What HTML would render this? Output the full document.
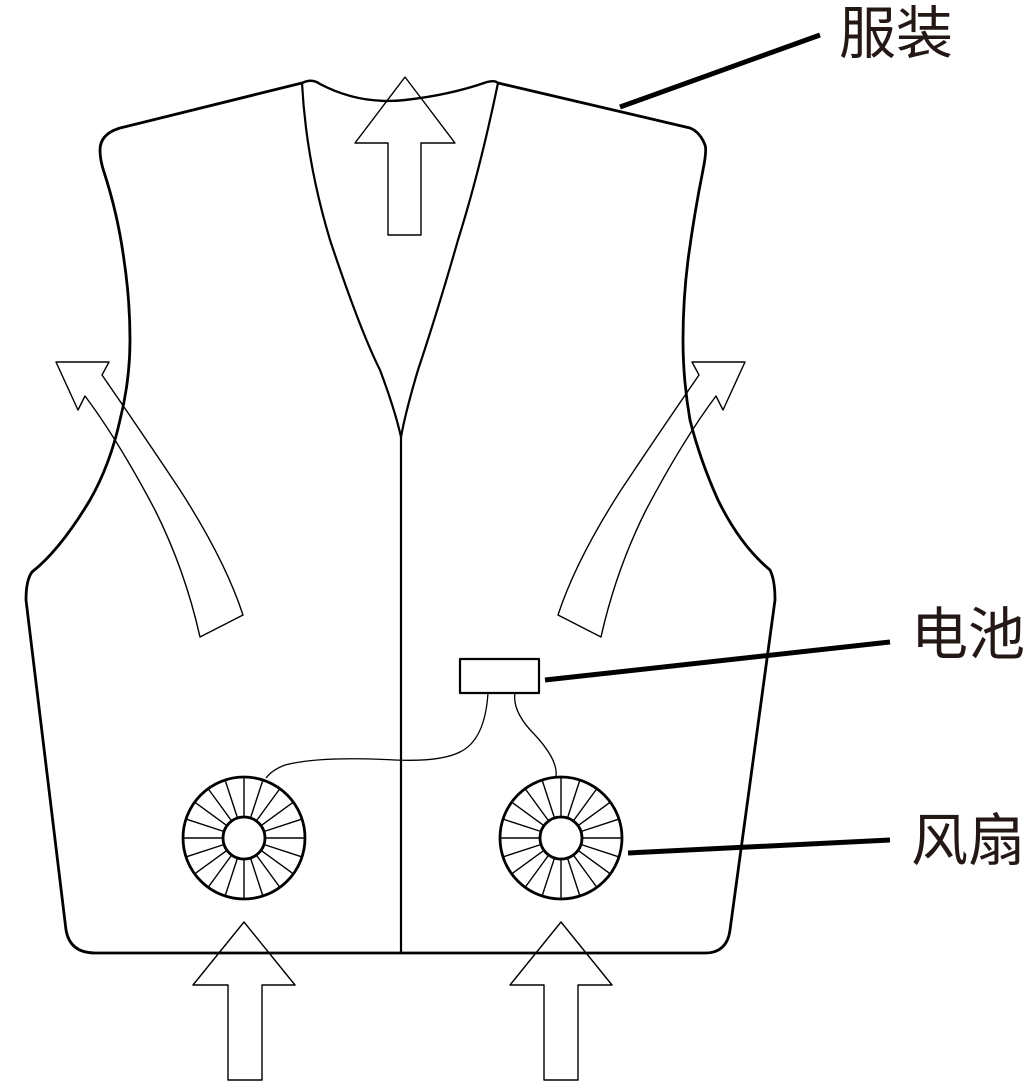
<!DOCTYPE html>
<html><head><meta charset="utf-8"><style>
html,body{margin:0;padding:0;background:#fff;}
svg{display:block;}
text{font-family:"Liberation Sans","Noto Sans CJK SC",sans-serif;fill:#231815;}
</style></head><body>
<svg width="1030" height="1092" viewBox="0 0 1030 1092" xmlns="http://www.w3.org/2000/svg">
<g fill="none" stroke="#000" stroke-linejoin="round">
<path stroke-width="2.8" d="M302,83 L120,128 Q100,134 100,150 Q100,160 104,172 Q118,215 124,260 Q130,300 130,340 Q130,380 120,420 Q110,465 90,500 Q60,550 32,572 Q26,580 26,600 L66,930 Q70,953 95,953 L705,953 Q727,953 730,930 L775,600 Q775,580 770,570 Q740,545 718,500 Q700,460 690,420 Q683,380 683,340 Q683,300 688,260 Q694,215 703,170 Q707,150 705,145 Q700,132 690,128 L498,83"/>
<path stroke-width="2.4" d="M302,83 Q312,78 320,84 Q360,105 405,100 Q450,95 487,82 Q495,80 498,83"/>
<path stroke-width="2.2" d="M302,83 Q306,160 330,240 Q360,330 380,370 Q395,410 401,437 Q406,410 418,370 Q438,310 458,240 Q480,170 498,83"/>
<line x1="401" y1="437" x2="401" y2="953" stroke-width="2.2"/>
<path stroke-width="1.4" d="M405,77 L455,143 L421,143 L421,235 L388,235 L388,143 L355,143 Z"/>
<path stroke-width="1.4" d="M244,922 L295,985 L262,985 L262,1080 L228,1080 L228,985 L193,985 Z"/>
<path stroke-width="1.4" d="M561,922 L612,985 L578,985 L578,1080 L544,1080 L544,985 L510,985 Z"/>
<path stroke-width="1.4" d="M56,362 L109,362 L102,375 Q140,430 180,490 Q225,560 243,615 L200,637 Q185,570 155,510 Q118,440 85,396 L78,410 Z"/>
<path stroke-width="1.4" d="M745,362 L692,362 L699,375 Q661,430 621,490 Q576,560 558,615 L601,637 Q616,570 646,510 Q683,440 716,396 L723,410 Z"/>
<rect x="460" y="659" width="79" height="34" stroke-width="2.2"/>
<path stroke-width="1.3" d="M488,693 Q485,740 460,752 Q440,762 395,760 Q320,756 285,765 Q272,770 266,778"/>
<path stroke-width="1.3" d="M515,693 Q512,712 535,735 Q558,760 556,776"/>
<line x1="620" y1="107" x2="820" y2="35" stroke-width="5"/>
<line x1="545" y1="680" x2="890" y2="642" stroke-width="5"/>
<line x1="628" y1="853" x2="890" y2="840" stroke-width="5"/>
</g>
<g id="fans" fill="none" stroke="#000"></g>
<text x="839" y="53" font-size="57">服装</text>
<text x="911" y="654" font-size="57">电池</text>
<text x="911" y="860" font-size="57">风扇</text>
<script>
(function(){
var g=document.getElementById('fans');var ns='http://www.w3.org/2000/svg';
[[244,838],[561,838]].forEach(function(c){
 var s='';
 for(var i=0;i<20;i++){var a=i*Math.PI/10;var ca=Math.cos(a),sa=Math.sin(a);
  s+='M'+(c[0]+21*ca).toFixed(1)+','+(c[1]+21*sa).toFixed(1)+'L'+(c[0]+61*ca).toFixed(1)+','+(c[1]+61*sa).toFixed(1);}
 var p=document.createElementNS(ns,'path');p.setAttribute('d',s);p.setAttribute('stroke-width','1.4');g.appendChild(p);
 [61,21].forEach(function(r){var e=document.createElementNS(ns,'circle');e.setAttribute('cx',c[0]);e.setAttribute('cy',c[1]);e.setAttribute('r',r);e.setAttribute('stroke-width',2.8);e.setAttribute('fill',r==21?'#fff':'none');g.appendChild(e);});
});
})();
</script>
</svg>
</body></html>
